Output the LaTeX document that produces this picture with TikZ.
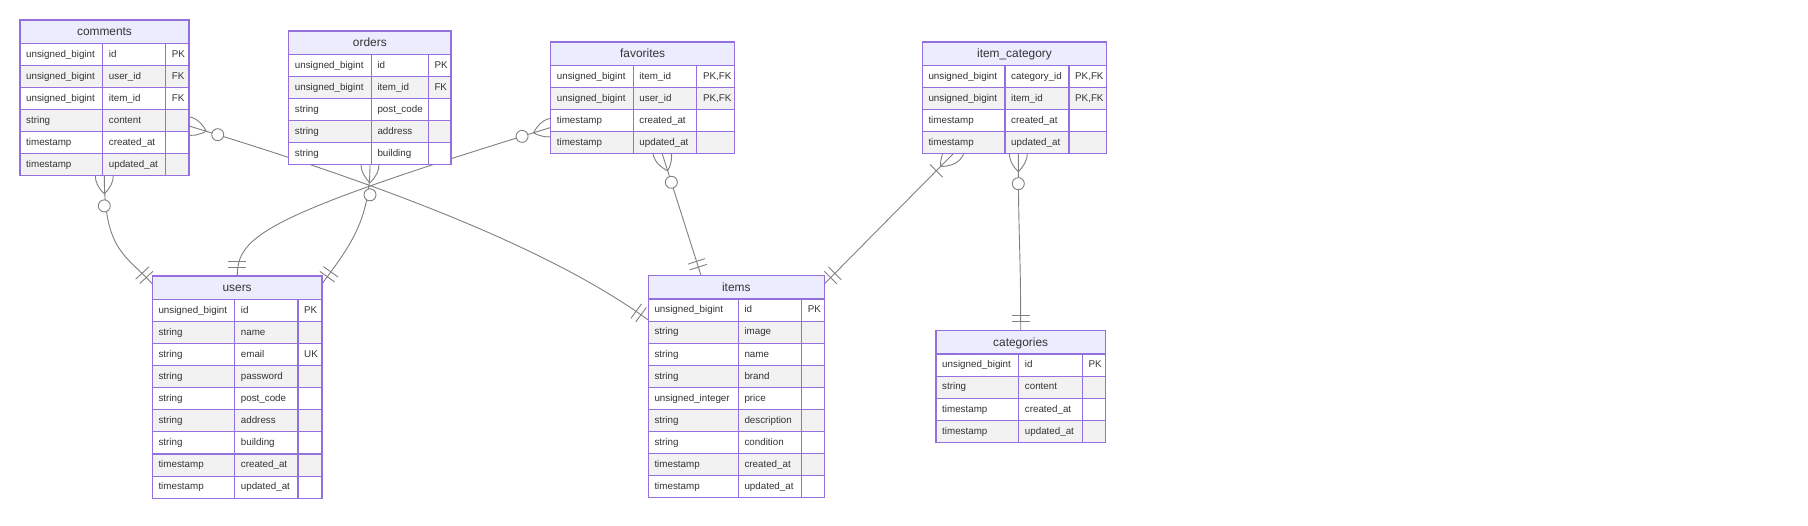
\documentclass[tikz,border=0pt]{standalone}
\usepackage{fontspec}
\setmainfont{Liberation Sans}
\usetikzlibrary{calc}
\definecolor{erborder}{HTML}{9370DB}
\definecolor{erhead}{HTML}{ECECFF}
\definecolor{errow}{HTML}{F2F2F2}
\definecolor{erline}{HTML}{808080}
\definecolor{ertext}{HTML}{333333}
\tikzset{
  tblborder/.style={draw=erborder, line width=1.1pt},
  rel/.style={draw=erline, line width=0.9pt},
  hdrtext/.style={inner sep=0pt, text=ertext, font=\fontsize{11.9}{14}\selectfont, text height=9pt, text depth=1pt},
  celltext/.style={inner sep=0pt, anchor=west, text=ertext, font=\fontsize{9.8}{12}\selectfont, text height=7pt, text depth=1.4pt},
  zcirc/.style={draw=erline, line width=0.9pt, fill=white},
}
% table: #1 id, #2 x0, #3 c1, #4 c2, #5 x3, #6 top, #7 title, #8 rows
\newcommand{\ertable}[8]{%
  \pgfmathsetmacro{\hb}{#6+23.3}%
  \fill[erhead] (#2,#6) rectangle (#5,\hb);
  \node[hdrtext] (#1) at ({(#2+#5)/2},{(#6+\hb)/2}) {#7};
  \foreach \ty/\nm/\ky [count=\i] in {#8} {%
    \pgfmathsetmacro{\ya}{\hb+(\i-1)*22.1}%
    \pgfmathsetmacro{\yb}{\ya+22.1}%
    \pgfmathtruncatemacro{\odd}{mod(\i,2)}%
    \ifnum\odd=1 \fill[white] (#2,\ya) rectangle (#5,\yb); \else \fill[errow] (#2,\ya) rectangle (#5,\yb); \fi
    \node[celltext] (#1-type\i) at ({#2+6},{(\ya+\yb)/2}) {\ty};
    \node[celltext] (#1-name\i) at ({#3+6},{(\ya+\yb)/2}) {\nm};
    \node[celltext] (#1-key\i) at ({#4+6},{(\ya+\yb)/2}) {\ky};
  }
  \foreach \ty/\nm/\ky [count=\i] in {#8} {%
    \pgfmathsetmacro{\ya}{\hb+(\i-1)*22.1}%
    \pgfmathsetmacro{\yb}{\ya+22.1}%
    \draw[tblborder] (#2,\yb) -- (#5,\yb);
    \draw[tblborder] (#3,\ya) -- (#3,\yb) (#4,\ya) -- (#4,\yb);
    \xdef\lastyb{\yb}%
  }
  \draw[tblborder] (#2,#6) rectangle (#5,\lastyb);
  \draw[tblborder] (#2,\hb) -- (#5,\hb);
}
% lens (many) at E=(#1,#2), direction #3,#4 pointing away from box
\newcommand{\lensmark}[4]{%
  \draw[rel] ({#1-18*(#3)},{#2-18*(#4)}) .. controls ({#1-6*(#3)-12*(#4)},{#2-6*(#4)+12*(#3)}) and ({#1+6*(#3)-12*(#4)},{#2+6*(#4)+12*(#3)}) .. ({#1+18*(#3)},{#2+18*(#4)}) .. controls ({#1+6*(#3)+12*(#4)},{#2+6*(#4)-12*(#3)}) and ({#1-6*(#3)+12*(#4)},{#2-6*(#4)-12*(#3)}) .. cycle;
}
\newcommand{\zeromany}[4]{%
  \lensmark{#1}{#2}{#3}{#4}
  \filldraw[zcirc] ({#1+30*(#3)},{#2+30*(#4)}) circle[radius=6pt];
}
\newcommand{\onemany}[4]{%
  \lensmark{#1}{#2}{#3}{#4}
  \draw[rel] ({#1+24*(#3)+9*(#4)},{#2+24*(#4)-9*(#3)}) -- ({#1+24*(#3)-9*(#4)},{#2+24*(#4)+9*(#3)});
}
\newcommand{\onlyone}[4]{%
  \draw[rel] ({#1+9*(#3)+9*(#4)},{#2+9*(#4)-9*(#3)}) -- ({#1+9*(#3)-9*(#4)},{#2+9*(#4)+9*(#3)});
  \draw[rel] ({#1+15*(#3)+9*(#4)},{#2+15*(#4)-9*(#3)}) -- ({#1+15*(#3)-9*(#4)},{#2+15*(#4)+9*(#3)});
}
\begin{document}
\begin{tikzpicture}[x=1pt,y=-1pt]
\fill[white] (0,0) rectangle (1808,526);
\useasboundingbox (0,0) rectangle (1808,526);

% connector end points
\coordinate (r1a) at (104.3,175.9);  \coordinate (r1b) at (152.5,284);
\coordinate (r2a) at (370,164.8);    \coordinate (r2b) at (322,284);
\coordinate (r3a) at (550.7,127.5);  \coordinate (r3b) at (237.3,276);
\coordinate (r4a) at (189,126);      \coordinate (r4b) at (648.3,320);
\coordinate (r5a) at (662.2,153.7);  \coordinate (r5b) at (701.1,275.7);
\coordinate (r6a) at (953.2,153.7);  \coordinate (r6b) at (824.3,284);
\coordinate (r7a) at (1018.3,153.7); \coordinate (r7b) at (1020.7,330.7);

% connectors
\draw[rel] (r1a) .. controls (104.3,250.7) and (125.4,254.6) .. (r1b);
\draw[rel] (r2a) .. controls (370,224.3) and (345.2,251.6) .. (r2b);
\draw[rel] (r3a) .. controls (264.2,215.5) and (237.3,236) .. (r3b);
\draw[rel] (r4a) .. controls (351.7,175.3) and (540,241) .. (r4b);
\draw[rel] (r5a) -- (r5b);
\draw[rel] (r6a) -- (r6b);
\draw[rel] (r7a) .. controls (1018.3,240) and (1020.7,245) .. (r7b);

% markers
\zeromany{104.3}{175.9}{0}{1}        \onlyone{152.5}{284}{-0.678}{-0.735}
\zeromany{370}{164.8}{0}{1}          \onlyone{322}{284}{0.582}{-0.813}
\zeromany{550.7}{127.5}{-0.955}{0.295} \onlyone{237.3}{276}{0}{-1}
\zeromany{189}{126}{0.957}{0.29}     \onlyone{648.3}{320}{-0.807}{-0.59}
\zeromany{662.2}{153.7}{0.305}{0.953} \onlyone{701.1}{275.7}{-0.305}{-0.953}
\onemany{953.2}{153.7}{-0.705}{0.709} \onlyone{824.3}{284}{0.705}{-0.709}
\zeromany{1018.3}{153.7}{0}{1}       \onlyone{1020.7}{330.7}{0}{-1}

% tables
\ertable{comments}{20}{102.7}{165.7}{189}{20}{comments}{unsigned\_bigint/id/PK, unsigned\_bigint/user\_id/FK, unsigned\_bigint/item\_id/FK, string/content/, timestamp/created\_at/, timestamp/updated\_at/}
\ertable{orders}{288.7}{371.3}{428.3}{451}{31}{orders}{unsigned\_bigint/id/PK, unsigned\_bigint/item\_id/FK, string/post\_code/, string/address/, string/building/}
\ertable{users}{152.3}{234.7}{298}{322}{276}{users}{unsigned\_bigint/id/PK, string/name/, string/email/UK, string/password/, string/post\_code/, string/address/, string/building/, timestamp/created\_at/, timestamp/updated\_at/}
\ertable{favorites}{550.7}{633.2}{696.8}{734.6}{42}{favorites}{unsigned\_bigint/item\_id/{PK,FK}, unsigned\_bigint/user\_id/{PK,FK}, timestamp/created\_at/, timestamp/updated\_at/}
\ertable{itemcategory}{922.3}{1005}{1069}{1106.7}{42}{item\_category}{unsigned\_bigint/category\_id/{PK,FK}, unsigned\_bigint/item\_id/{PK,FK}, timestamp/created\_at/, timestamp/updated\_at/}
\ertable{items}{648.3}{738.3}{801.7}{824.3}{275.7}{items}{unsigned\_bigint/id/PK, string/image/, string/name/, string/brand/, unsigned\_integer/price/, string/description/, string/condition/, timestamp/created\_at/, timestamp/updated\_at/}
\ertable{categories}{936}{1018.7}{1082.3}{1105.3}{330.7}{categories}{unsigned\_bigint/id/PK, string/content/, timestamp/created\_at/, timestamp/updated\_at/}
\end{tikzpicture}
\end{document}
